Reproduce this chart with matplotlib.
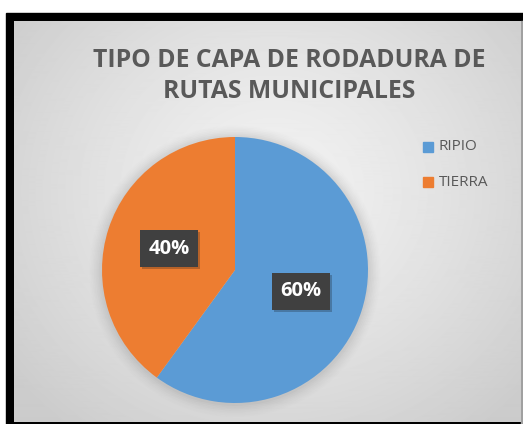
import numpy as np
import matplotlib
matplotlib.use("Agg")
import matplotlib.pyplot as plt
import matplotlib.patheffects as pe
from matplotlib.patches import Rectangle, Circle

# data
categories = ["RIPIO", "TIERRA"]
values = [60, 40]
colors = ["#5B9BD5", "#ED7D31"]
title = "TIPO DE CAPA DE RODADURA DE\nRUTAS MUNICIPALES"

W, H = 523, 424
fig = plt.figure(figsize=(W / 100, H / 100), dpi=100, facecolor="white")

def px(x0, y0, w, h):
    # pixel box (from top-left) -> figure fraction rect
    return [x0 / W, 1 - (y0 + h) / H, w / W, h / H]

# black frame
fig.patches.append(Rectangle((6 / W, 0), 1 - 6 / W, 1 - 13 / H,
                             transform=fig.transFigure, color="black", zorder=-5))
fig.patches.append(Rectangle((521 / W, 0), 2 / W, 1 - 21 / H,
                             transform=fig.transFigure, color="#a0a0a0", zorder=-4))

# gradient background
bg = fig.add_axes(px(14, 21, 507, 401))
bg.set_zorder(-1)
yy, xx = np.mgrid[0:401, 0:507]
d = np.sqrt(((xx - 260) / 330.0) ** 2 + ((yy - 170) / 300.0) ** 2)
d = np.clip(d, 0, 1)
light, dark = 0.95, 0.80
img = light - (light - dark) * d ** 1.3
bg.imshow(img, cmap="gray", vmin=0, vmax=1, aspect="auto", interpolation="bilinear")
bg.set_axis_off()

# pie
cx, cy, r = 235, 270, 133
ax = fig.add_axes(px(cx - r, cy - r, 2 * r, 2 * r))
# soft shadow
for i, a in enumerate(np.linspace(0.05, 0.012, 8)):
    ax.add_patch(Circle((0.0, -0.01), 1.0 + 0.012 * (i + 1), color="#808080",
                        alpha=a, lw=0, zorder=0, clip_on=False))
wedges, texts, autotexts = ax.pie(
    values, colors=colors, startangle=90, counterclock=False, radius=1.0,
    autopct="%1.0f%%", pctdistance=0.52,
    wedgeprops=dict(linewidth=0),
    textprops=dict(color="white", fontsize=14.5, fontweight="bold", family="Open Sans"))
for t in autotexts:
    t.set_bbox(dict(boxstyle="square,pad=0.42", facecolor="#404040", edgecolor="none"))
    t.get_bbox_patch().set_path_effects(
        [pe.SimplePatchShadow(offset=(1.5, -1.5), alpha=0.25), pe.Normal()])
ax.set_xlim(-1.0, 1.0)
ax.set_ylim(-1.0, 1.0)
ax.set_axis_off()

# title
fig.text(289 / W, 1 - 76 / H, title, ha="center", va="center",
         fontsize=17.8, fontweight="bold", color="#595959", family="Open Sans",
         linespacing=1.28)

# legend
leg_y = [147, 182]
for name, col, y in zip(categories, colors, leg_y):
    fig.patches.append(Rectangle((423 / W, 1 - (y + 5) / H), 10 / W, 10 / H,
                                 transform=fig.transFigure, color=col, zorder=3))
    fig.text(439 / W, 1 - y / H, name, ha="left", va="center",
             fontsize=11, color="#595959", family="Open Sans")

fig.savefig("out.png", dpi=100)
